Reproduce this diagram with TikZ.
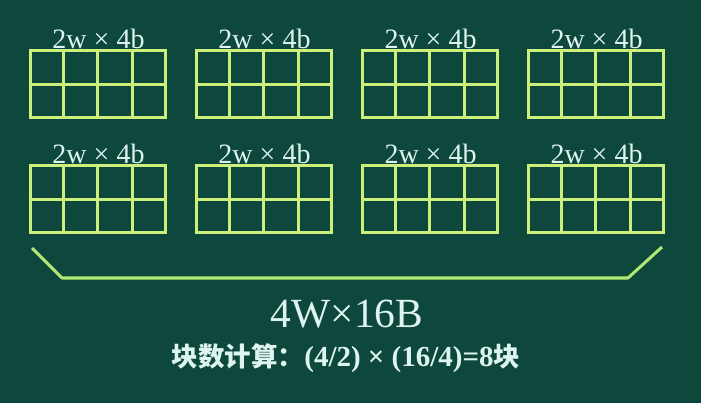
\documentclass[tikz,border=0pt]{standalone}
\usepackage{fontspec}
\setmainfont{Liberation Serif}
\newfontfamily\cjk{Noto Sans CJK SC}
\usepackage{xcolor}
\usetikzlibrary{positioning,calc}
\definecolor{board}{RGB}{14,72,60}
\definecolor{chalkgreen}{RGB}{205,240,125}
\definecolor{bracegreen}{RGB}{175,232,115}
\definecolor{chalk}{RGB}{222,244,240}

\begin{document}
\begin{tikzpicture}[x=1pt,y=-1pt,ln/.style={draw=chalkgreen,line width=3pt},
 blk/.style={ln,rectangle,minimum width=135pt,minimum height=67pt,inner sep=0pt},
 lbl/.style={text=chalk,font=\fontsize{28}{30}\selectfont,inner sep=0pt},
 res/.style={text=chalk,inner sep=0pt}]
\fill[board] (0,0) rectangle (701,403);
\useasboundingbox (0,0) rectangle (701,403);
% eight 2w x 4b chips, two rows of four
\foreach \i in {0,...,3}{
 \foreach \j/\yy in {0/84.5,1/199.5}{
  \node[blk] (g\i\j) at (97.5+166*\i,\yy) {};
  \foreach \k in {1,2,3} \draw[ln] ($(g\i\j.north west)!\k/4!(g\i\j.north east)$)--($(g\i\j.south west)!\k/4!(g\i\j.south east)$);
  \draw[ln] (g\i\j.west)--(g\i\j.east);
  \node[lbl,anchor=base] (t\i\j) at ($(g\i\j.north)+(1,-1)$) {2w × 4b};
 }}
% brace under the chips
\coordinate (b1) at (32,248); \coordinate (b2) at (62,278);
\coordinate (b3) at (628,278); \coordinate (b4) at (662,247);
\draw[draw=bracegreen,line width=3pt,line join=round] (b1)--(b2)--(b3)--(b4);
\node[res,anchor=base,font=\fontsize{41.5}{44}\selectfont] (tot) at (347,327) {4W×16B};
\node[res,anchor=base,font=\bfseries\fontsize{29}{31}\selectfont] (calc) at (346,366) {{\cjk\fontsize{26.5}{28}\selectfont 块数计算：}(4/2) × (16/4)=8{\cjk\fontsize{26.5}{28}\selectfont 块}};
\end{tikzpicture}
\end{document}
